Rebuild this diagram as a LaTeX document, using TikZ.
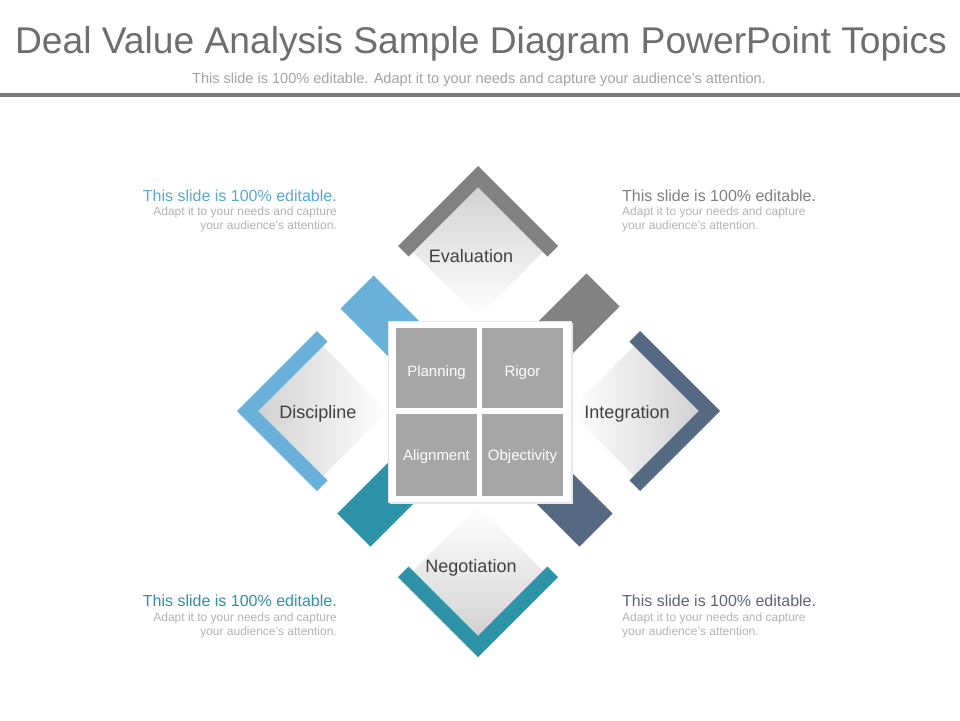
\documentclass[tikz,border=0pt]{standalone}
\usepackage{fontspec}
\setmainfont{Liberation Sans}
\usetikzlibrary{calc}
\definecolor{titlegray}{HTML}{6E6E6E}
\definecolor{subgray}{HTML}{A3A3A3}
\definecolor{rulegray}{HTML}{7A7A7A}
\definecolor{cgray}{HTML}{828282}
\definecolor{cblue}{HTML}{69B1D8}
\definecolor{cnavy}{HTML}{566983}
\definecolor{cteal}{HTML}{2E93A8}
\definecolor{cellgray}{HTML}{A6A6A6}
\definecolor{textdark}{HTML}{404040}
\definecolor{bodygray}{HTML}{B3B3B3}
\definecolor{headblue}{HTML}{5BA8D0}
\definecolor{headgray}{HTML}{7F7F7F}
\definecolor{headteal}{HTML}{3190A6}
\definecolor{headnavy}{HTML}{5B6577}
\definecolor{shadegray}{HTML}{D2D2D2}
\definecolor{shademid}{HTML}{F0F0F0}
\newcommand{\chevunit}[4]{%
  \begin{scope}[shift={(#1,#2)},rotate=#3]
    \fill[#4] (0,-80) -- (80,0) -- (69.4,10.6) -- (0,-58.8) -- (-69.4,10.6) -- (-80,0) -- cycle;
  \end{scope}}
\newcommand{\diagbar}[5]{% endx endy ux uy color
  \fill[#5] ($(#1,#2)+(23.5*#4,-23.5*#3)$) -- ($(#1,#2)+(-23.5*#4,23.5*#3)$)
     -- ($(#1,#2)+(-23.5*#4,23.5*#3)-(170*#3,170*#4)$) -- ($(#1,#2)+(23.5*#4,-23.5*#3)-(170*#3,170*#4)$) -- cycle;}
\tikzset{
  unitlabel/.style={font=\fontsize{18}{21}\selectfont, text=textdark, anchor=base, inner sep=0pt},
  celllabel/.style={font=\fontsize{15}{18}\selectfont, text=white, anchor=base, inner sep=0pt},
  cellbox/.style={fill=cellgray},
  headtext/.style={font=\fontsize{16}{18}\selectfont, inner sep=0pt},
  bodytext/.style={font=\fontsize{12}{14}\selectfont, text=bodygray, inner sep=0pt},
}
\begin{document}
\begin{tikzpicture}[x=1pt,y=-1pt]
\fill[white] (0,0) rectangle (960,720);
\useasboundingbox (0,0) rectangle (960,720);
% header
\node[font=\fontsize{37.2}{41}\selectfont, text=titlegray, anchor=base, inner sep=0pt] (title) at (481,53) {Deal Value Analysis Sample Diagram PowerPoint Topics};
\node[font=\fontsize{14.55}{17}\selectfont, text=subgray, anchor=base, inner sep=0pt] (subtitle) at (479,83) {This slide is 100\% editable. Adapt it to your needs and capture your audience's attention.};
\fill[rulegray] (0,93) rectangle (960,97);
% diagonal bars
\diagbar{357}{292}{-0.7071}{-0.7071}{cblue}
\diagbar{603}{290}{0.7071}{-0.7071}{cgray}
\diagbar{354}{530}{-0.7071}{0.7071}{cteal}
\diagbar{596}{530}{0.7071}{0.7071}{cnavy}
% gradient diamonds
\shade[top color=shadegray, middle color=shademid, bottom color=white] (478,187.2) -- (543,252.2) -- (478,317.2) -- (413,252.2) -- cycle;
\shade[left color=shadegray, middle color=shademid, right color=white] (258.2,411) -- (323,346) -- (388,411) -- (323,476) -- cycle;
\shade[right color=shadegray, middle color=shademid, left color=white] (698.8,411) -- (634,346) -- (569,411) -- (634,476) -- cycle;
\shade[bottom color=shadegray, middle color=shademid, top color=white] (478,635.8) -- (413,570.8) -- (478,505.8) -- (543,570.8) -- cycle;
% chevrons
\chevunit{478}{246}{0}{cgray}
\chevunit{317}{411}{90}{cblue}
\chevunit{478}{577}{180}{cteal}
\chevunit{640}{411}{-90}{cnavy}
% unit labels
\node[unitlabel] (evaluation) at (471,262.5) {Evaluation};
\node[unitlabel] (discipline) at (318,418.5) {Discipline};
\node[unitlabel] (integration) at (627,418.5) {Integration};
\node[unitlabel] (negotiation) at (471,572.5) {Negotiation};
% center frame
\fill[black!8] (390,323) rectangle (573,504);
\fill[white, draw=black!10, line width=0.6pt] (388,321) rectangle (571,502);
\fill[cellbox] (396,328) rectangle (477,408);
\fill[cellbox] (482,328) rectangle (563,408);
\fill[cellbox] (396,414) rectangle (477,496);
\fill[cellbox] (482,414) rectangle (563,496);
\node[celllabel] (planning) at (436.5,376.5) {Planning};
\node[celllabel] (rigor) at (522.5,376.5) {Rigor};
\node[celllabel] (alignment) at (436.5,460.5) {Alignment};
\node[celllabel] (objectivity) at (522.5,460.5) {Objectivity};
% text blocks
\node[headtext, text=headblue, anchor=base east] (tlh) at (337,201.7) {This slide is 100\% editable.};
\node[bodytext, anchor=base east] (tl1) at (337,215.5) {Adapt it to your needs and capture};
\node[bodytext, anchor=base east] (tl2) at (337,229.5) {your audience's attention.};
\node[headtext, text=headgray, anchor=base west] (trh) at (622,201.7) {This slide is 100\% editable.};
\node[bodytext, anchor=base west] (tr1) at (622,215.5) {Adapt it to your needs and capture};
\node[bodytext, anchor=base west] (tr2) at (622,229.5) {your audience's attention.};
\node[headtext, text=headteal, anchor=base east] (blh) at (337,606.7) {This slide is 100\% editable.};
\node[bodytext, anchor=base east] (bl1) at (337,621.5) {Adapt it to your needs and capture};
\node[bodytext, anchor=base east] (bl2) at (337,635.5) {your audience's attention.};
\node[headtext, text=headnavy, anchor=base west] (brh) at (622,606.7) {This slide is 100\% editable.};
\node[bodytext, anchor=base west] (br1) at (622,621.5) {Adapt it to your needs and capture};
\node[bodytext, anchor=base west] (br2) at (622,635.5) {your audience's attention.};
\end{tikzpicture}
\end{document}
